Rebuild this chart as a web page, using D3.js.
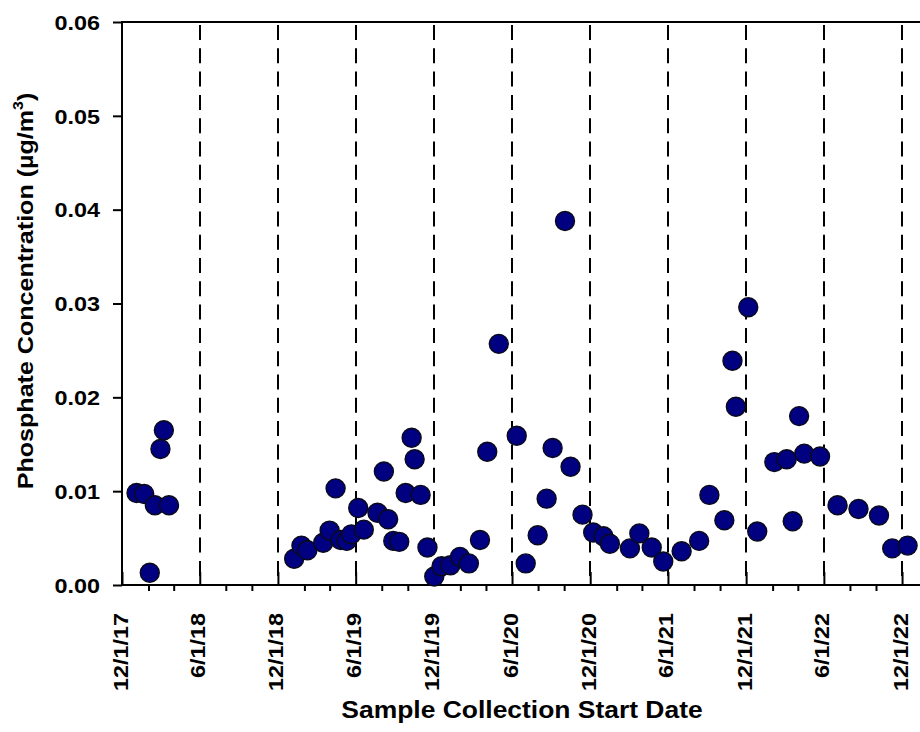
<!DOCTYPE html>
<html>
<head>
<meta charset="utf-8">
<script src="https://cdn.jsdelivr.net/npm/d3@7"></script>
<style>
  html, body { margin: 0; padding: 0; background: #fff; }
  svg { display: block; }
  text { font-family: "Liberation Sans", Arial, sans-serif; font-weight: bold; fill: #000; }
</style>
</head>
<body>
<svg id="chart" width="920" height="732"></svg>
<script>
// Sample collection start dates (ISO) and the measured phosphate concentration (µg/m³)
const sampleDates = [
  "2018-01-04", "2018-01-22", "2018-02-04", "2018-02-16", "2018-03-01", "2018-03-09", "2018-03-21",
  "2019-01-08", "2019-01-25", "2019-02-08", "2019-03-17", "2019-04-01", "2019-04-15", "2019-04-27",
  "2019-05-11", "2019-05-22", "2019-06-07", "2019-06-20", "2019-07-22", "2019-08-06", "2019-08-16",
  "2019-08-28", "2019-09-11", "2019-09-26", "2019-10-10", "2019-10-17", "2019-10-31", "2019-11-16",
  "2019-12-02", "2019-12-19", "2020-01-09", "2020-01-31", "2020-02-21", "2020-03-18", "2020-04-04",
  "2020-05-01", "2020-06-12", "2020-07-03", "2020-07-31", "2020-08-21", "2020-09-04", "2020-10-03",
  "2020-10-16", "2020-11-13", "2020-12-08", "2021-01-01", "2021-01-16", "2021-03-04", "2021-03-26",
  "2021-04-24", "2021-05-21", "2021-07-03", "2021-08-13", "2021-09-06", "2021-10-11", "2021-10-30",
  "2021-11-07", "2021-12-06", "2021-12-27", "2022-02-05", "2022-03-06", "2022-03-20", "2022-04-04",
  "2022-04-16", "2022-05-23", "2022-07-03", "2022-08-21", "2022-10-08", "2022-11-08", "2022-12-14"
];
const phosphate = [
  0.0098, 0.0097, 0.0013, 0.0085, 0.0145, 0.0165, 0.0085,
  0.0028, 0.0042, 0.0037, 0.0045, 0.0058, 0.0103, 0.0048,
  0.0047, 0.0054, 0.0082, 0.0059, 0.0077, 0.0121, 0.0070,
  0.0047, 0.0046, 0.0098, 0.0157, 0.0134, 0.0096, 0.0040,
  0.0009, 0.0020, 0.0021, 0.0030, 0.0023, 0.0048, 0.0142,
  0.0257, 0.0159, 0.0023, 0.0053, 0.0092, 0.0146, 0.0388,
  0.0126, 0.0075, 0.0056, 0.0052, 0.0044, 0.0039, 0.0055,
  0.0040, 0.0025, 0.0036, 0.0047, 0.0096, 0.0069, 0.0239,
  0.0190, 0.0296, 0.0057, 0.0131, 0.0134, 0.0068, 0.0180,
  0.0140, 0.0137, 0.0085, 0.0081, 0.0074, 0.0039, 0.0042
];
const xTickLabels = ["12/1/17", "6/1/18", "12/1/18", "6/1/19", "12/1/19", "6/1/20",
                     "12/1/20", "6/1/21", "12/1/21", "6/1/22", "12/1/22"];
const yTickValues = [0, 0.01, 0.02, 0.03, 0.04, 0.05, 0.06];
const xTitle = "Sample Collection Start Date";

const parseIso = d3.utcParse("%Y-%m-%d");
const parseLabel = d3.utcParse("%m/%d/%y");

const plot = { left: 122, top: 22, bottom: 585, right: 920 };
const svg = d3.select("#chart");

const x = d3.scaleUtc()
  .domain([parseIso("2017-12-01"), parseIso("2023-01-12")])
  .range([plot.left, plot.right]);
const y = d3.scaleLinear()
  .domain([0, 0.06])
  .range([plot.bottom, plot.top]);

const majorDates = xTickLabels.map(parseLabel);
const majorKeys = new Set(majorDates.map(d => +d));
const minorDates = d3.utcMonth.range(x.domain()[0], x.domain()[1], 2)
  .filter(d => !majorKeys.has(+d));

// Dashed guide lines at each half-year boundary
svg.append("g")
  .selectAll("line")
  .data(majorDates.slice(1))
  .join("line")
  .attr("x1", d => Math.round(x(d)))
  .attr("x2", d => Math.round(x(d)))
  .attr("y1", plot.top + 3)
  .attr("y2", plot.bottom)
  .attr("stroke", "#000")
  .attr("stroke-width", 2)
  .attr("stroke-dasharray", "15,8.3");

// Minor ticks (outward, every two months)
svg.append("g")
  .attr("transform", `translate(0,${plot.bottom})`)
  .call(d3.axisBottom(x).tickValues(minorDates).tickSize(6).tickFormat(""))
  .call(g => g.select(".domain").remove())
  .call(g => g.selectAll(".tick line").attr("stroke-width", 2));

// Major ticks (inward) with rotated date labels
const stretch = 1.17;
svg.append("g")
  .attr("transform", `translate(0,${plot.bottom})`)
  .call(d3.axisBottom(x).tickValues(majorDates).tickSize(-13).tickSizeOuter(0)
    .tickFormat((d, i) => xTickLabels[i]))
  .call(g => g.select(".domain").remove())
  .call(g => g.selectAll(".tick line").attr("stroke-width", 2))
  .call(g => g.selectAll(".tick text")
    .attr("font-size", 20)
    .attr("font-family", null)
    .attr("x", 0).attr("y", 0)
    .attr("dy", "0.25em")
    .attr("text-anchor", "end")
    .attr("transform", `translate(0,28) rotate(-90) scale(${stretch},1)`));

// Left axis
svg.append("g")
  .attr("transform", `translate(${plot.left},0)`)
  .call(d3.axisLeft(y).tickValues(yTickValues).tickSize(9).tickFormat(d3.format(".2f")))
  .call(g => g.select(".domain").remove())
  .call(g => g.selectAll(".tick line").attr("stroke-width", 2))
  .call(g => g.selectAll(".tick text")
    .attr("font-size", 20)
    .attr("font-family", null)
    .attr("x", 0)
    .attr("dy", "0.36em")
    .attr("text-anchor", "end")
    .attr("transform", `translate(-22,0) scale(${stretch},1)`));

// Frame lines: left, bottom, top
const frame = svg.append("g").attr("stroke", "#000").attr("stroke-width", 2);
frame.append("line").attr("x1", plot.left).attr("x2", plot.left).attr("y1", plot.top - 1).attr("y2", plot.bottom + 1);
frame.append("line").attr("x1", plot.left).attr("x2", plot.right).attr("y1", plot.bottom).attr("y2", plot.bottom);
frame.append("line").attr("x1", plot.left).attr("x2", plot.right).attr("y1", plot.top).attr("y2", plot.top);

// Data points
const points = sampleDates.map((d, i) => ({ date: parseIso(d), value: phosphate[i] }));
svg.append("g")
  .selectAll("circle")
  .data(points)
  .join("circle")
  .attr("cx", d => x(d.date))
  .attr("cy", d => y(d.value))
  .attr("r", 9.5)
  .attr("fill", "#000080")
  .attr("stroke", "#0a0a1a")
  .attr("stroke-width", 1.4);

// Axis titles
svg.append("text")
  .attr("font-size", 23)
  .attr("text-anchor", "middle")
  .attr("transform", `translate(522,718) scale(1.15,1)`)
  .text(xTitle);

const yTitle = svg.append("text")
  .attr("font-size", 22)
  .attr("text-anchor", "middle")
  .attr("transform", `translate(33,291) rotate(-90) scale(1.14,1)`);
yTitle.append("tspan").text("Phosphate Concentration (µg/m");
yTitle.append("tspan").attr("font-size", 14).attr("dy", "-0.75em").text("3");
yTitle.append("tspan").attr("dy", "0.48em").text(")");
</script>
</body>
</html>
